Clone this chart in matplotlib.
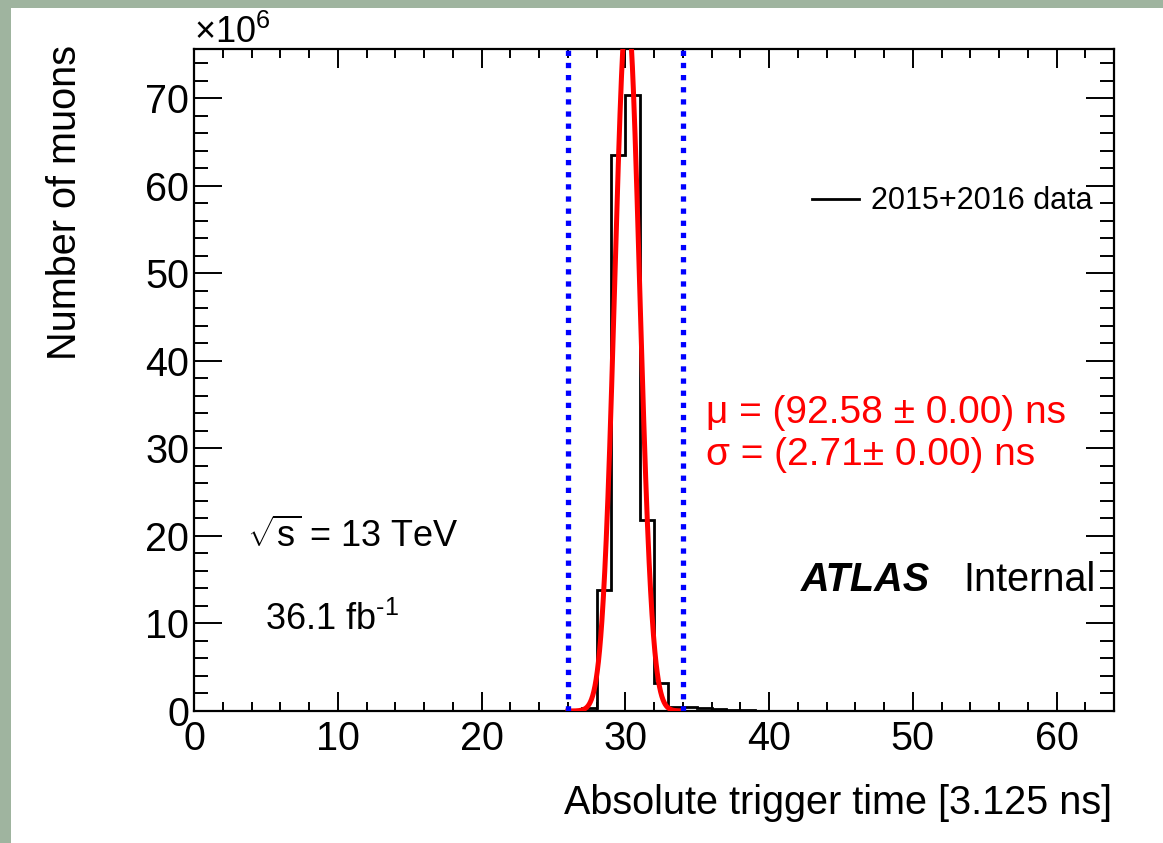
import numpy as np
import matplotlib
matplotlib.use("Agg")
import matplotlib.pyplot as plt
from matplotlib.patches import Rectangle
from matplotlib.ticker import MultipleLocator

plt.rcParams["font.family"] = ["Liberation Sans", "DejaVu Sans"]
plt.rcParams["mathtext.fontset"] = "custom"
plt.rcParams["mathtext.rm"] = "Liberation Sans"
plt.rcParams["mathtext.it"] = "Liberation Sans:italic"
plt.rcParams["mathtext.bf"] = "Liberation Sans:bold"

# ---- data -------------------------------------------------------------
BC_NS = 3.125                     # one bunch crossing in ns
x_edges = np.arange(0, 65, 1)     # trigger-time bins [BC]
# muon counts per bin (millions), bins 24..41; all other bins are empty
first_filled_bin = 24
filled_counts = [0.02, 0.03, 0.05, 0.3, 13.8, 63.5, 70.3, 21.8, 3.2,
                 0.5, 0.4, 0.3, 0.2, 0.12, 0.08, 0.05, 0.03, 0.02]
fit_mu_ns = 92.58
fit_sigma_ns = 2.71
fit_range = (26, 34)              # window of the Gaussian fit [BC]
legend_label = "2015+2016 data"

counts = np.zeros(len(x_edges) - 1)
counts[first_filled_bin:first_filled_bin + len(filled_counts)] = filled_counts
counts = counts * 1e6

# ---- figure -----------------------------------------------------------
W, H = 1163, 843
fig = plt.figure(figsize=(W / 100, H / 100), dpi=100)
fig.patch.set_facecolor("white")

# slide frame
frame_col = "#9fb49f"
fig.add_artist(Rectangle((0, 0), 11 / W, 1, transform=fig.transFigure,
                         color=frame_col, lw=0, zorder=-5))
fig.add_artist(Rectangle((0, 1 - 8 / H), 1, 8 / H, transform=fig.transFigure,
                         color=frame_col, lw=0, zorder=-5))

ax = fig.add_axes([194.2 / W, 1 - 711 / H, 919.8 / W, 662 / H])

# histogram
ax.stairs(counts, x_edges, color="black", lw=2.0, label=legend_label, zorder=3)

# Gaussian fit (bin centres sit half a BC above the stored time)
mu_bc = fit_mu_ns / BC_NS + 0.5
sig_bc = fit_sigma_ns / BC_NS
norm = counts.sum() * 1.0 / (sig_bc * np.sqrt(2 * np.pi))
xf = np.linspace(fit_range[0], fit_range[1], 400)
ax.plot(xf, norm * np.exp(-0.5 * ((xf - mu_bc) / sig_bc) ** 2),
        color="#ff0000", lw=3.6, zorder=4)

# fit window boundaries
ymax = 75.6e6
for xv in fit_range:
    ax.plot([xv, xv], [0, ymax], color="#0000ff", lw=3.8,
            linestyle=(0, (1, 1.3)), dash_capstyle="butt", zorder=5)

ax.set_xlim(0, 64)
ax.set_ylim(0, ymax)

# ---- axes styling -----------------------------------------------------
for sp in ax.spines.values():
    sp.set_linewidth(1.6)

ax.xaxis.set_major_locator(MultipleLocator(10))
ax.xaxis.set_minor_locator(MultipleLocator(2))
ax.yaxis.set_minor_locator(MultipleLocator(2e6))
ax.set_yticks(np.arange(0, 71e6, 10e6))
ax.set_yticklabels([str(v) for v in range(0, 71, 10)])

ax.tick_params(axis="both", which="both", direction="in", top=True, right=True,
               width=1.4, labelsize=28.5)
ax.tick_params(axis="x", which="major", length=13.7, pad=6.5)
ax.tick_params(axis="x", which="minor", length=6.8)
ax.tick_params(axis="y", which="major", length=20, pad=3.6)
ax.tick_params(axis="y", which="minor", length=10)

ax.text(0.0, 1.009, r"$\times10^{6}$", transform=ax.transAxes,
        ha="left", va="baseline", fontsize=26)

ax.text(0.998, -0.139, "Absolute trigger time [3.125 ns]", transform=ax.transAxes,
        ha="right", va="center", fontsize=28.5)
ax.text(-0.1405, 1.006, "Number of muons", transform=ax.transAxes,
        ha="center", va="top", rotation=90, fontsize=28.5)

# legend
ax.legend(loc="center right", bbox_to_anchor=(0.977, 0.770), frameon=False,
          fontsize=22, handlelength=1.55, handletextpad=0.4, borderpad=0,
          borderaxespad=0)

# fit results
ax.text(0.556, 0.450, "\u03bc = (%.2f \u00b1 0.00) ns" % fit_mu_ns,
        transform=ax.transAxes, color="#ff0000", fontsize=28, ha="left", va="center")
ax.text(0.556, 0.387, "\u03c3 = (%.2f\u00b1 0.00) ns" % fit_sigma_ns,
        transform=ax.transAxes, color="#ff0000", fontsize=28, ha="left", va="center")

# run conditions
ax.text(0.0574, 0.263, r"$\sqrt{\mathrm{s}}$ = 13 TeV", transform=ax.transAxes,
        fontsize=26, ha="left", va="center")
ax.text(0.077, 0.137, r"36.1 fb$^{\text{-1}}$", transform=ax.transAxes,
        fontsize=26, ha="left", va="center")

ax.text(0.659, 0.198, "ATLAS", transform=ax.transAxes, fontsize=28.5,
        fontweight="bold", fontstyle="italic", ha="left", va="center")
ax.text(0.836, 0.198, "Internal", transform=ax.transAxes, fontsize=28.5,
        ha="left", va="center")

fig.savefig("out.png", dpi=100)
